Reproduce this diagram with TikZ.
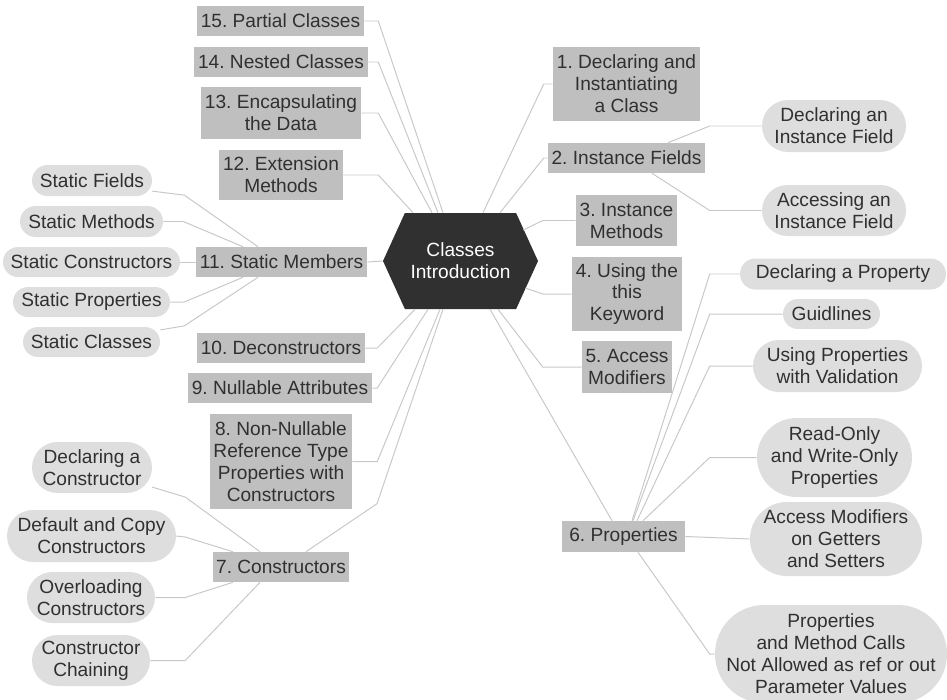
\documentclass[tikz,border=0pt]{standalone}
\usepackage{fontspec}
\setmainfont{Liberation Sans}
\usepackage{tikz}
\usetikzlibrary{calc,shapes.symbols}
\definecolor{inkgray}{HTML}{303030}
\definecolor{hubgray}{HTML}{303030}
\definecolor{topicgray}{HTML}{BFBFBF}
\definecolor{leafgray}{HTML}{DEDEDE}
\definecolor{linkgray}{HTML}{C8C8C8}
\frenchspacing

\begin{document}
\begin{tikzpicture}[
  x=0.025cm, y=-0.025cm,
  every node/.style={font=\fontsize{13.6}{15.6}\selectfont, text=inkgray,
    align=center, inner xsep=0pt, inner ysep=0pt},
  hub/.style={signal, signal to=west and east, signal pointer angle=131,
    fill=hubgray, text=white, minimum width=155*0.025cm, minimum height=96*0.025cm},
  topic/.style 2 args={rectangle, fill=topicgray,
    minimum width=#1*0.025cm, minimum height=#2*0.025cm},
  leaf/.style 2 args={rectangle, fill=leafgray, rounded corners=#2*0.0125cm,
    minimum width=#1*0.025cm, minimum height=#2*0.025cm},
  link/.style={draw=linkgray, line width=0.7pt}
]
  \useasboundingbox (0,0) rectangle (947,699);

  \node[hub] (hub) at (460.5,261) {Classes\\Introduction};

  % right side topics
  \node[topic={147}{74}] (t1) at (626.5,84) {1. Declaring and\\Instantiating\\a Class};
  \node[topic={157}{30}] (t2) at (626.5,158) {2. Instance Fields};
  \node[topic={101}{51}] (t3) at (626.5,220.5) {3. Instance\\Methods};
  \node[topic={110}{74}] (t4) at (627,294) {4. Using the\\this\\Keyword};
  \node[topic={90}{52}] (t5) at (627,367) {5. Access\\Modifiers};
  \node[topic={123}{31}] (t6) at (623.5,536.5) {6. Properties};

  % left side topics
  \node[topic={136}{30}] (t7) at (281,567) {7. Constructors};
  \node[topic={142}{95}] (t8) at (281,461.5) {8. Non-Nullable\\Reference Type\\Properties with\\Constructors};
  \node[topic={184}{30}] (t9) at (280,388) {9. Nullable Attributes};
  \node[topic={168}{30}] (t10) at (281,348) {10. Deconstructors};
  \node[topic={171}{30}] (t11) at (281.5,262) {11. Static Members};
  \node[topic={124}{50}] (t12) at (281,175) {12. Extension\\Methods};
  \node[topic={160}{52}] (t13) at (281,113) {13. Encapsulating\\the Data};
  \node[topic={174}{30}] (t14) at (281,62) {14. Nested Classes};
  \node[topic={167}{30}] (t15) at (280.5,21) {15. Partial Classes};

  % leaves
  \node[leaf={144}{52}] (d2a) at (834,126) {Declaring an\\Instance Field};
  \node[leaf={144}{51}] (d2b) at (834,210.5) {Accessing an\\Instance Field};

  \node[leaf={206}{31}] (p1) at (843,274) {Declaring a Property};
  \node[leaf={97}{30}] (p2) at (831.5,314) {Guidlines};
  \node[leaf={169}{52}] (p3) at (837.5,366) {Using Properties\\with Validation};
  \node[leaf={155}{79}] (p4) at (834.5,457.5) {Read-Only\\and Write-Only\\Properties};
  \node[leaf={172}{74}] (p5) at (836,539) {Access Modifiers\\on Getters\\and Setters};
  \node[leaf={232}{98}] (p6) at (831,654) {Properties\\and Method Calls\\Not Allowed as ref or out\\Parameter Values};

  \node[leaf={120}{31}] (s1) at (92,180.5) {Static Fields};
  \node[leaf={143}{31}] (s2) at (91.5,221.5) {Static Methods};
  \node[leaf={177}{30}] (s3) at (91.5,262) {Static Constructors};
  \node[leaf={157}{30}] (s4) at (91.5,302) {Static Properties};
  \node[leaf={137}{30}] (s5) at (91.5,342) {Static Classes};

  \node[leaf={120}{51}] (c1) at (92,467.5) {Declaring a\\Constructor};
  \node[leaf={169}{52}] (c2) at (91.5,536) {Default and Copy\\Constructors};
  \node[leaf={128}{51}] (c3) at (91,597.5) {Overloading\\Constructors};
  \node[leaf={118}{51}] (c4) at (91,660.5) {Constructor\\Chaining};

  % hub links
  \draw[link] (t1.west) -- ++(-9,0) -- ($(hub.north)+(22.5,0)$);
  \draw[link] (t2.west) -- ++(-4,0) -- ($(hub.north)+(39.5,0)$);
  \draw[link] (t3.west) -- ++(-33,0) -- ($(hub.east)+(-15,-31)$);
  \draw[link] (t4.west) -- ++(-29,0) -- ($(hub.east)+(-13,27)$);
  \draw[link] (t5.west) -- ++(-39,0) -- ($(hub.south)+(37.5,0)$);
  \draw[link] ($(t6.north)+(-11.5,0)$) -- ($(hub.south)+(29.5,0)$);
  \draw[link] ($(t7.north)+(25,0)$) -- ++(71,-48) -- ($(hub.south)+(-17.5,0)$);
  \draw[link] (t8.east) -- ++(25,0) -- ($(hub.south)+(-20.5,0)$);
  \draw[link] (t9.east) -- ++(5,0) -- ($(hub.south)+(-32.5,0)$);
  \draw[link] (t10.east) -- ++(12,0) -- ($(hub.south)+(-45.5,0)$);
  \draw[link] (t11.east) -- (hub.west);
  \foreach \t/\dx/\hx in {t12/35/-47.5, t13/17/-28.5, t14/10/-22.5, t15/14/-17.5}
    \draw[link] (\t.east) -- ++(\dx,0) -- ($(hub.north)+(\hx,0)$);

  % leaf links
  \draw[link] (d2a.west) -- ++(-52,0) -- ($(t2.north)+(41.5,0)$);
  \draw[link] (d2b.west) -- ++(-52,0) -- ($(t2.south)+(25.5,0)$);
  \foreach \p/\dx/\ox in {p1/-30/8.5, p2/-73/9.5, p3/-43/13.5, p4/-47/19.5}
    \draw[link] (\p.west) -- ++(\dx,0) -- ($(t6.north)+(\ox,0)$);
  \draw[link] (t6.east) -- (p5.west);
  \draw[link] (p6.west) -- ++(-5,0) -- ($(t6.south)+(14.5,0)$);

  \draw[link] (s1.-10) -- ++(32,4) -- ($(t11.north)+(-23.5,0)$);
  \draw[link] (s2.east) -- ++(20,0) -- ($(t11.north)+(-38.5,0)$);
  \draw[link] (s3.east) -- (t11.west);
  \draw[link] (s4.east) -- ++(14,0) -- ($(t11.south)+(-38.5,0)$);
  \draw[link] (s5.10) -- ++(24,-4) -- ($(t11.south)+(-23.5,0)$);

  \draw[link] (c1.-18) -- ++(33,10) -- ($(t7.north)+(-21,0)$);
  \draw[link] (c2.east) -- ++(9,1) -- ($(t7.north)+(-48,0)$);
  \draw[link] (c3.east) -- ++(30,0) -- ($(t7.south)+(-48,0)$);
  \draw[link] (c4.east) -- ++(35,0) -- ($(t7.south)+(-21,0)$);
\end{tikzpicture}
\end{document}
